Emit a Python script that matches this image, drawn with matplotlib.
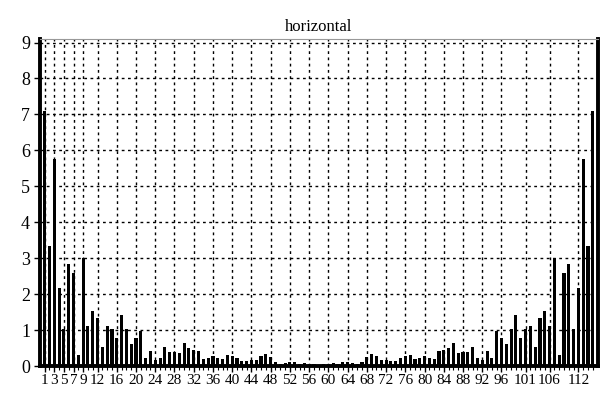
import matplotlib
matplotlib.use("Agg")
import matplotlib.pyplot as plt
import numpy as np

# left half (bars 1..58); the chart is mirror-symmetric, 115 bars total
left_half = [7.10, 3.33, 5.75, 2.17, 1.04, 2.85, 2.58, 0.31, 3.00, 1.12,
             1.53, 1.35, 0.54, 1.12, 1.02, 0.77, 1.42, 1.04, 0.62, 0.77,
             0.97, 0.21, 0.42, 0.18, 0.21, 0.54, 0.39, 0.40, 0.35, 0.65,
             0.50, 0.45, 0.42, 0.20, 0.22, 0.27, 0.22, 0.19, 0.30, 0.27,
             0.21, 0.13, 0.15, 0.16, 0.18, 0.27, 0.33, 0.26, 0.10, 0.06,
             0.08, 0.10, 0.10, 0.07, 0.08, 0.06, 0.05, 0.04]
values = left_half + left_half[-2::-1]
positions = list(range(1, len(values) + 1))

tick_labels = [1, 3, 5, 7, 9, 12, 16, 20, 24, 28, 32, 36, 40, 44, 48, 52,
               56, 60, 64, 68, 72, 76, 80, 84, 88, 92, 96, 101, 106, 112]
yticks = list(range(0, 10))
title = "horizontal"

serif = ["Liberation Serif", "DejaVu Serif"]

fig = plt.figure(figsize=(6.13, 3.97), dpi=100)
ax = fig.add_axes([0.065, 0.078, 0.910, 0.823])

ax.bar(positions, values, width=0.65, color="black", zorder=3)

ax.set_xlim(0, len(values) + 1)
ax.set_ylim(0, 9.09)

ax.set_xticks(tick_labels)
ax.set_xticklabels([str(t) for t in tick_labels], family=serif, fontsize=11)
ax.set_xticks(positions, minor=True)
ax.set_yticks(yticks)
ax.set_yticklabels([str(t) for t in yticks], family=serif, fontsize=13)

ax.tick_params(axis="x", which="major", length=4, width=1, pad=1.5, direction="out")
ax.tick_params(axis="x", which="minor", length=3, width=0.8, direction="out")
ax.tick_params(axis="y", which="major", length=4, width=1, pad=3, direction="out")

ax.grid(True, which="major", axis="both", color="black", linestyle=(0, (2, 2.5)),
        linewidth=1.0, zorder=1)
ax.set_axisbelow(True)

for side in ["left", "right", "bottom"]:
    ax.spines[side].set_linewidth(2.8)
    ax.spines[side].set_color("black")
ax.spines["top"].set_linewidth(0.8)
ax.spines["top"].set_color("#999999")

ax.set_title(title, family=serif, fontsize=12, pad=6)

fig.savefig("out.png", dpi=100)
